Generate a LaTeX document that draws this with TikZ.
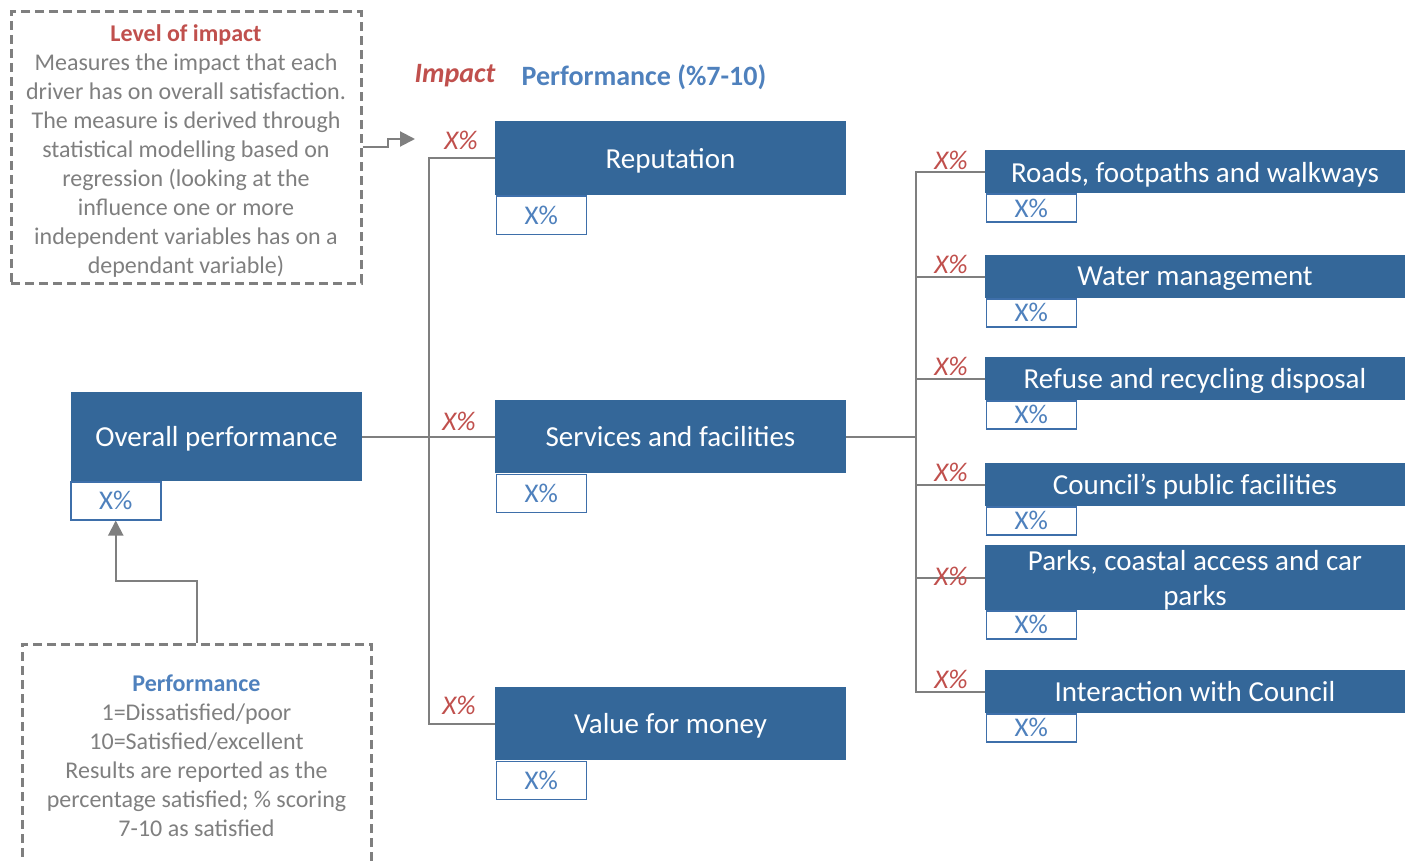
\documentclass[tikz,border=0pt]{standalone}
\usepackage{fontspec}
\setmainfont{Carlito}
\usetikzlibrary{arrows.meta,calc}
\definecolor{boxblue}{RGB}{52,103,153}
\definecolor{lblue}{RGB}{79,129,189}
\definecolor{sbord}{RGB}{62,111,170}
\definecolor{ired}{RGB}{192,80,77}
\definecolor{lgray}{RGB}{127,127,127}
\tikzset{
  every node/.style={font=\fontsize{24}{29}\selectfont},
  mainbox/.style={fill=boxblue,text=white,inner sep=0pt,minimum width=351pt,minimum height=73pt,text depth=0pt,font=\fontsize{29}{35}\selectfont},
  subbox/.style={fill=boxblue,text=white,inner sep=0pt,minimum width=420pt,minimum height=43pt,align=center,text depth=0pt,font=\fontsize{29}{35}\selectfont},
  valbox/.style={draw=sbord,line width=1.5pt,fill=white,text=lblue,inner sep=0pt,minimum width=90pt,minimum height=38pt,anchor=north west,font=\fontsize{27}{32}\selectfont},
  valboxs/.style={valbox,minimum height=28pt},
  wlabel/.style={text=ired,font=\fontsize{27}{32}\selectfont\itshape,inner sep=0pt},
  conn/.style={draw=lgray,line width=2pt},
  dbox/.style={draw=lgray,line width=3pt,dash pattern=on 9pt off 5pt},
  note/.style={text=lgray,align=center,inner sep=0pt},
  arr/.style={conn,-{Triangle[length=15pt,width=15pt]}}
}
\begin{document}
\begin{tikzpicture}[x=1pt,y=-1pt]
\useasboundingbox (0,0) rectangle (1405,861);
\clip (0,0) rectangle (1405,861);
% notes
\node[dbox,minimum width=350pt,minimum height=271pt,inner sep=0pt] (lvl) at (186,147.5) {};
\node[note] (lvltxt) at (186,151) {{\bfseries\color{ired}Level of impact}\\Measures the impact that each\\driver has on overall satisfaction.\\The measure is derived through\\statistical modelling based on\\regression (looking at the\\influence one or more\\independent variables has on a\\dependant variable)};
\node[dbox,minimum width=349pt,minimum height=260pt,inner sep=0pt] (pb) at (196.5,774) {};
\node[note] (pbtxt) at (196.5,756) {{\bfseries\color{lblue}Performance}\\1=Dissatisfied/poor\\10=Satisfied/excellent\\Results are reported as the\\percentage satisfied; \% scoring\\7-10 as satisfied};
% headers
\node[text=ired,font=\fontsize{28}{34}\selectfont\bfseries\itshape,inner sep=0pt] (himp) at (455,76) {Impact};
\node[text=lblue,font=\fontsize{28}{34}\selectfont\bfseries,inner sep=0pt] (hperf) at (644,77) {Performance (\%7-10)};
% overall
\node[mainbox,minimum width=291pt,minimum height=89pt] (over) at (216.5,436.5) {Overall performance};
\node[valbox] (overv) at (70,481) {X\%};
% level 1
\node[mainbox,minimum height=74pt] (rep) at (670.5,158) {Reputation};
\node[valbox] (repv) at (495.5,195.5) {X\%};
\node[mainbox] (ser) at (670.5,436.5) {Services and facilities};
\node[valbox] (serv) at (495.5,473.5) {X\%};
\node[mainbox] (val) at (670.5,723.5) {Value for money};
\node[valbox] (valv) at (495.5,760.5) {X\%};
% level 2
\node[subbox] (roads) at (1195,172) {Roads, footpaths and walkways};
\node[valboxs] (roadsv) at (985.5,193.5) {X\%};
\node[subbox] (water) at (1195,276.5) {Water management};
\node[valboxs] (waterv) at (985.5,298) {X\%};
\node[subbox] (refuse) at (1195,378.5) {Refuse and recycling disposal};
\node[valboxs] (refusev) at (985.5,400) {X\%};
\node[subbox] (council) at (1195,484.5) {Council’s public facilities};
\node[valboxs] (councilv) at (985.5,506) {X\%};
\node[subbox,minimum height=65pt] (parks) at (1195,577.5) {Parks, coastal access and car\\parks};
\node[valboxs] (parksv) at (985.5,610) {X\%};
\node[subbox] (inter) at (1195,691.5) {Interaction with Council};
\node[valboxs] (interv) at (985.5,713) {X\%};
% connectors left
\coordinate (j1) at (429,436.5);
\draw[conn] (over.east) -- (ser.west);
\draw[conn] (rep.west) -| (j1) |- (val.west);
% connectors right
\coordinate (j2) at (916,436.5);
\draw[conn] (ser.east) -- (j2);
\draw[conn] (roads.west) -| (j2) |- (inter.west);
\draw[conn] (j2 |- water.west) -- (water.west);
\draw[conn] (j2 |- refuse.west) -- (refuse.west);
\draw[conn] (j2 |- council.west) -- (council.west);
\draw[conn] (j2 |- parks.west) -- (parks.west);
% weights
\node[wlabel] (w1) at (461,140) {X\%};
\node[wlabel] (w2) at (459,421) {X\%};
\node[wlabel] (w3) at (459,705) {X\%};
\node[wlabel] (w4) at (951,160) {X\%};
\node[wlabel] (w5) at (951,264) {X\%};
\node[wlabel] (w6) at (951,366) {X\%};
\node[wlabel] (w7) at (951,472) {X\%};
\node[wlabel] (w8) at (951,576) {X\%};
\node[wlabel] (w9) at (951,679) {X\%};
% arrows
\coordinate (a1) at (415,139);
\draw[arr] (lvl.east |- 0,147) -- (388,147) |- (a1);
\draw[arr] (pb.north) -- ++(0,-62) -| (overv.south);
\end{tikzpicture}
\end{document}
